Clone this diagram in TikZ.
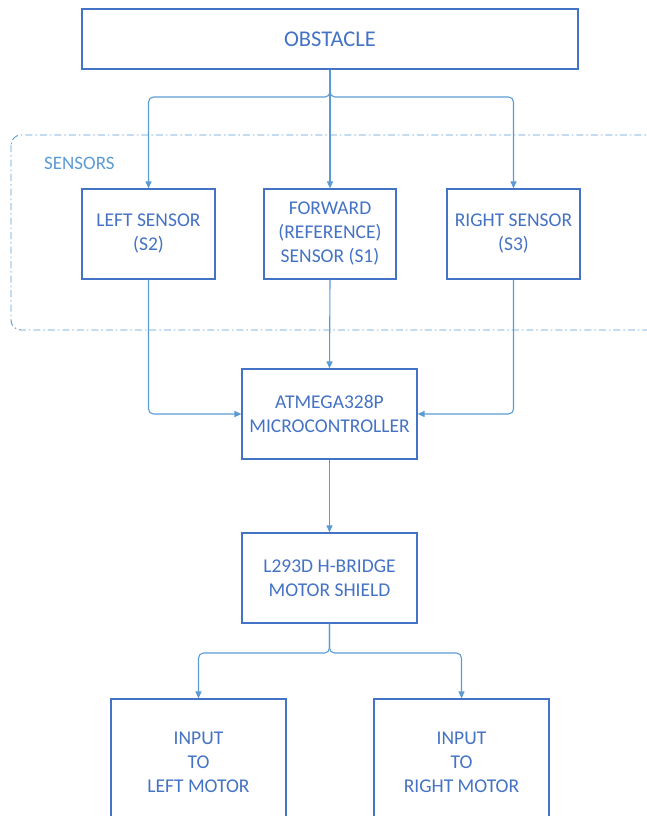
\documentclass[tikz,border=0pt]{standalone}
\usepackage{fontspec}
\setmainfont{Carlito}
\usetikzlibrary{arrows.meta}
\usetikzlibrary{positioning}
\tikzset{>={Triangle[width=6pt,length=7pt]}}

\definecolor{boxblue}{HTML}{4472C4}
\definecolor{lineblue}{HTML}{5B9BD5}

\begin{document}
\begin{tikzpicture}[x=1pt, y=-1pt,
  block/.style={draw=boxblue, line width=1.2pt, text=boxblue, align=center,
    inner sep=0pt, font=\fontsize{19.5}{24}\selectfont},
  conn/.style={draw=lineblue, line width=1.1pt, ->, rounded corners=5pt}]

\newcommand\BW{175}
\newcommand\BH{90}

\useasboundingbox (0,0) rectangle (647,816);

%% obstacle
\node[block, minimum width=496, minimum height=60,
  font=\fontsize{22.5}{24}\selectfont] (obstacle) at (330,39) {OBSTACLE};

%% sensors
\draw[lineblue, line width=0.9pt, dash pattern=on 7pt off 3pt on 1.5pt off 3pt,
  rounded corners=10pt] (11,135) rectangle (672,330);
\node[anchor=base west, text=lineblue, inner sep=0pt, font=\fontsize{19}{22}\selectfont]
  (sensorslabel) at (44,169) {SENSORS};

\node[block, minimum width=133, minimum height=\BH] (leftsensor) at (148.5,234)
  {LEFT SENSOR\\(S2)};
\node[block, minimum width=132, minimum height=\BH] (fwdsensor) at (330,234)
  {FORWARD\\(REFERENCE)\\SENSOR (S1)};
\node[block, minimum width=133, minimum height=\BH] (rightsensor) at (513.5,234)
  {RIGHT SENSOR\\(S3)};

\coordinate (obsjoin) at (330,90);
\coordinate (obssplit) at (330,97);
\draw[conn] (obstacle.south) -- (fwdsensor.north);
\draw[conn] (obsjoin) -- (obssplit) -| (leftsensor.north);
\draw[conn] (obsjoin) -- (obssplit) -| (rightsensor.north);

%% controller
\node[block, minimum width=\BW, minimum height=\BH] (micro) at (329.5,414)
  {ATMEGA328P\\MICROCONTROLLER};

\draw[conn] (leftsensor.south) |- (micro.west);
\draw[conn] (fwdsensor.south) -- (micro.north);
\draw[conn] (rightsensor.south) |- (micro.east);

%% driver
\node[block, minimum width=\BW, minimum height=\BH] (hbridge) at (329.5,578)
  {L293D H-BRIDGE\\MOTOR SHIELD};
\draw[conn] (micro.south) -- (hbridge.north);

%% motors
\node[block, minimum width=\BW, minimum height=126] (leftmotor) at (198.5,762)
  {INPUT\\TO\\LEFT MOTOR};
\node[block, minimum width=\BW, minimum height=126] (rightmotor) at (461.5,762)
  {INPUT\\TO\\RIGHT MOTOR};

\coordinate (hbsplit) at (329.5,653);
\draw[conn] (hbridge.south) -- (hbsplit) -| (leftmotor.north);
\draw[conn] (hbridge.south) -- (hbsplit) -| (rightmotor.north);
\end{tikzpicture}
\end{document}
